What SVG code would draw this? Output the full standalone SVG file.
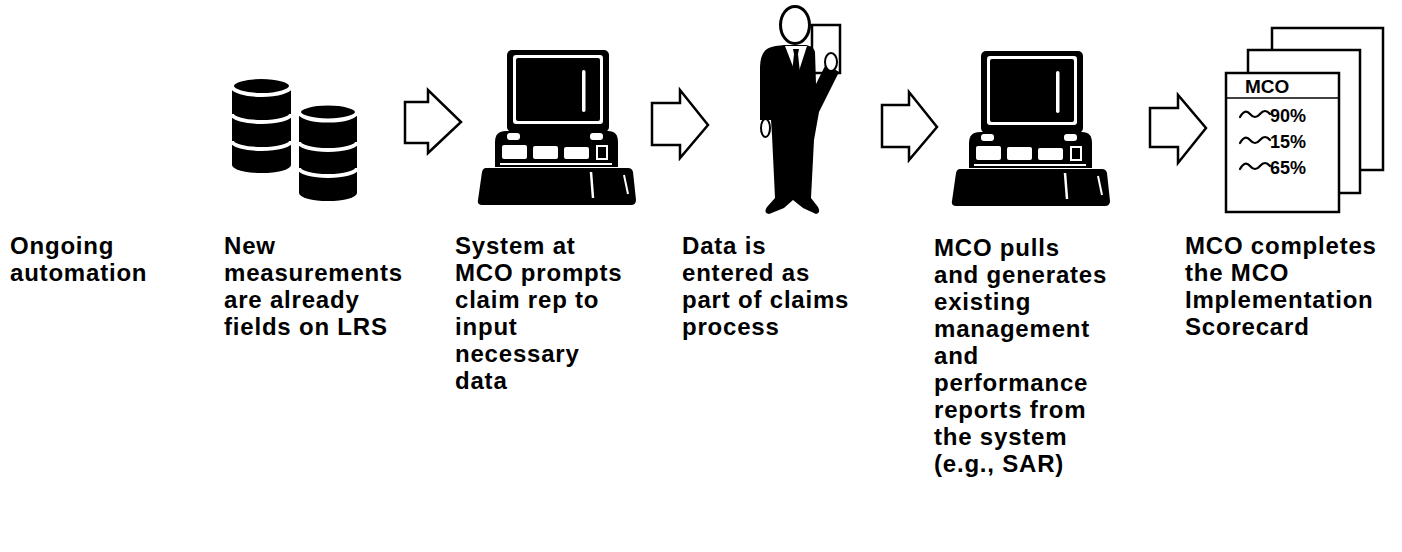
<svg xmlns="http://www.w3.org/2000/svg" width="1402" height="552" viewBox="0 0 1402 552">
  <defs>
    <style>
      .lbl { font-family: "Liberation Sans", Arial, Helvetica, sans-serif; font-weight: bold; font-size: 24px; letter-spacing: 0.8px; fill: #000; }
      .card { font-family: "Liberation Sans", Arial, Helvetica, sans-serif; font-weight: bold; fill: #000; }
      .blk { fill: #000; }
      .wht { fill: #fff; }
      .flow { fill: #fff; stroke: #000; stroke-width: 2.5; stroke-linejoin: miter; }
      .page { fill: #fff; stroke: #000; stroke-width: 2.5; }
      .band { fill: none; stroke: #fff; stroke-width: 4; }
      .wave { fill: none; stroke: #000; stroke-width: 2.2; stroke-linecap: round; }
    </style>
    <!-- desktop computer icon, drawn at its first position -->
    <g id="pc">
      <rect class="blk" x="507" y="50" width="102" height="82" rx="5"/>
      <rect class="wht" x="513" y="55" width="90" height="69" rx="3"/>
      <rect class="blk" x="516" y="58" width="84" height="63" rx="2"/>
      <rect class="wht" x="582" y="70" width="3.5" height="42" rx="1.7"/>
      <path class="blk" d="M495 167 V142 Q495 131 506 131 H608 Q618 131 618 142 V167 Z"/>
      <rect class="wht" x="507" y="133" width="13" height="7" rx="3"/>
      <rect class="wht" x="590" y="133" width="13" height="7" rx="3"/>
      <rect class="wht" x="502" y="145" width="25" height="14" rx="2"/>
      <rect class="wht" x="533" y="146" width="25" height="13" rx="2"/>
      <rect class="wht" x="564" y="147" width="25" height="12" rx="2"/>
      <rect x="597" y="146" width="10" height="13" fill="none" stroke="#fff" stroke-width="2"/>
      <line x1="500" y1="164" x2="612" y2="164" stroke="#fff" stroke-width="2"/>
      <path class="blk" d="M486 168 H628 Q632 168 633 172 L636 200 Q636 205 631 205 H482 Q477 205 478 200 L482 172 Q483 168 486 168 Z"/>
      <line x1="591" y1="172" x2="593" y2="198" stroke="#fff" stroke-width="2.5"/>
      <line x1="624" y1="175" x2="628" y2="194" stroke="#fff" stroke-width="2"/>
    </g>
  </defs>

  <rect width="1402" height="552" fill="#fff"/>

  <!-- step icons -->
  <g id="icon-databases">
    <!-- left cylinder -->
    <path class="blk" d="M232 87 V165 A29.5 8 0 0 0 291 165 V87 Z"/>
    <path class="band" d="M232 114 A29.5 8 0 0 0 291 114"/>
    <path class="band" d="M232 141 A29.5 8 0 0 0 291 141"/>
    <ellipse cx="261.5" cy="86" rx="29.5" ry="9" fill="#000" stroke="#fff" stroke-width="4"/>
    <!-- right cylinder -->
    <path class="blk" d="M299 113 V193 A29 8 0 0 0 357 193 V113 Z"/>
    <path class="band" d="M299 142 A29 8 0 0 0 357 142"/>
    <path class="band" d="M299 168 A29 8 0 0 0 357 168"/>
    <ellipse cx="328" cy="112" rx="29" ry="8.5" fill="#000" stroke="#fff" stroke-width="4"/>
  </g>

  <g id="icon-computer-1">
    <use href="#pc"/>
  </g>

  <g id="icon-person">
    <rect x="812" y="25" width="28" height="48" class="page"/>
    <path class="blk" d="M784 45 C775 46 767 47 764 52 C761 56 760 62 760 70 L760 120 L771 120 L772 135 L775 198 L767 207 Q763 213 769 214 L784 208 L793 200 L803 208 L816 214 Q821 213 818 207 L811 198 L814 140 L819 112 L823 104 L839 72 L826 64 L816 84 L815 52 C814 48 811 46 806 45 Z"/>
    <ellipse cx="765.5" cy="128" rx="4.5" ry="9" fill="#fff" stroke="#000" stroke-width="2"/>
    <ellipse cx="831" cy="62" rx="6" ry="9" fill="#fff" stroke="#000" stroke-width="2"/>
    <polygon class="wht" points="785,46 807,46 797,77"/>
    <polygon class="blk" points="793,49 799,49 798,54 800,73 796,79 792,73 794,54"/>
    <ellipse cx="795" cy="25" rx="14.5" ry="18.5" fill="#fff" stroke="#000" stroke-width="3"/>
  </g>

  <g id="icon-computer-2">
    <use href="#pc" transform="translate(474 1)"/>
  </g>

  <g id="icon-scorecard">
    <rect class="page" x="1272" y="28" width="111" height="142"/>
    <rect class="page" x="1248" y="50" width="112" height="143"/>
    <rect class="page" x="1226" y="73" width="113" height="139"/>
    <text class="card" x="1245" y="93" font-size="19">MCO</text>
    <line x1="1226" y1="98" x2="1339" y2="98" stroke="#000" stroke-width="1.5"/>
    <path class="wave" d="M1240 117 Q1245 108 1250 114 T1260 114 T1270 114"/>
    <text class="card" x="1270" y="122" font-size="18">90%</text>
    <path class="wave" d="M1240 143 Q1245 134 1250 140 T1260 140 T1270 140"/>
    <text class="card" x="1270" y="148" font-size="18">15%</text>
    <path class="wave" d="M1240 169 Q1245 160 1250 166 T1260 166 T1270 166"/>
    <text class="card" x="1270" y="174" font-size="18">65%</text>
  </g>

  <!-- flow arrows between steps -->
  <g id="connectors">
    <polygon class="flow" points="405,102 428,102 428,90 461,122 428,153 428,143 405,143"/>
    <polygon class="flow" points="652,103 680,103 680,90 708,125 680,158 680,145 652,145"/>
    <polygon class="flow" points="882,105 909,105 909,92 937,127 909,160 909,147 882,147"/>
    <polygon class="flow" points="1150,108 1178,108 1178,95 1206,128 1178,163 1178,147 1150,147"/>
  </g>

  <!-- captions -->
  <g id="label-ongoing">
    <text class="lbl" x="10" y="254">Ongoing</text>
    <text class="lbl" x="10" y="281">automation</text>
  </g>
  <g id="label-step1">
    <text class="lbl" x="224" y="254">New</text>
    <text class="lbl" x="224" y="281">measurements</text>
    <text class="lbl" x="224" y="308">are already</text>
    <text class="lbl" x="224" y="335">fields on LRS</text>
  </g>
  <g id="label-step2">
    <text class="lbl" x="455" y="254">System at</text>
    <text class="lbl" x="455" y="281">MCO prompts</text>
    <text class="lbl" x="455" y="308">claim rep to</text>
    <text class="lbl" x="455" y="335">input</text>
    <text class="lbl" x="455" y="362">necessary</text>
    <text class="lbl" x="455" y="389">data</text>
  </g>
  <g id="label-step3">
    <text class="lbl" x="682" y="254">Data is</text>
    <text class="lbl" x="682" y="281">entered as</text>
    <text class="lbl" x="682" y="308">part of claims</text>
    <text class="lbl" x="682" y="335">process</text>
  </g>
  <g id="label-step4">
    <text class="lbl" x="934" y="256">MCO pulls</text>
    <text class="lbl" x="934" y="283">and generates</text>
    <text class="lbl" x="934" y="310">existing</text>
    <text class="lbl" x="934" y="337">management</text>
    <text class="lbl" x="934" y="364">and</text>
    <text class="lbl" x="934" y="391">performance</text>
    <text class="lbl" x="934" y="418">reports from</text>
    <text class="lbl" x="934" y="445">the system</text>
    <text class="lbl" x="934" y="472">(e.g., SAR)</text>
  </g>
  <g id="label-step5">
    <text class="lbl" x="1185" y="254">MCO completes</text>
    <text class="lbl" x="1185" y="281">the MCO</text>
    <text class="lbl" x="1185" y="308">Implementation</text>
    <text class="lbl" x="1185" y="335">Scorecard</text>
  </g>
</svg>
